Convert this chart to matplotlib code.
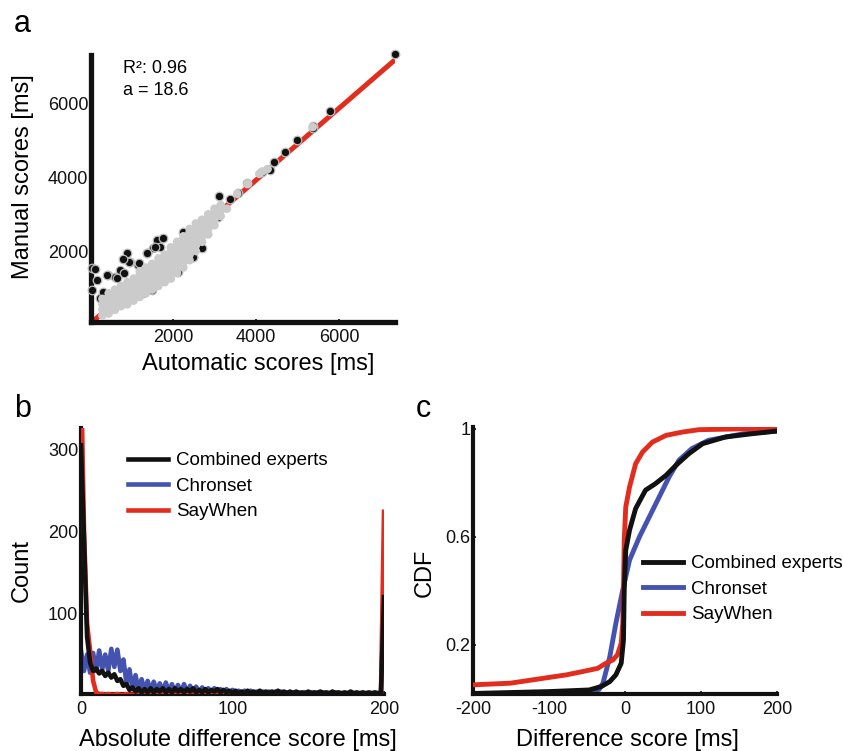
import matplotlib
matplotlib.use('Agg')
import matplotlib.pyplot as plt
import numpy as np

plt.rcParams['font.family'] = ['Liberation Sans', 'DejaVu Sans']
plt.rcParams['axes.unicode_minus'] = False

RED = '#e22d1e'
BLUE = '#4452b0'
BLACK = '#111111'
GRAY = '#cbcbcb'

# ---------------- Panel a data ----------------
auto_black = [7349, 5783, 5366, 5366, 4996, 4699, 4442, 4337, 4145, 3775,
              3574, 3116, 3373, 3092, 2249, 1607, 1767, 1687, 1526, 2610,
              2691, 2450, 2249, 2474, 2128, 2490, 56, 161, 56, 241,
              321, 441, 602, 723, 827, 884, 964, 1164, 1365, 1566,
              1486, 1285, 410, 650, 120, 1373, 1181, 940, 795, 2892]
manual_black = [7352, 5810, 5401, 5340, 5020, 4703, 4413, 4204, 4158, 3842,
                3570, 3497, 3407, 2934, 2526, 2299, 2345, 2117, 2073, 2163,
                2073, 2117, 1801, 1829, 1420, 1845, 1529, 1211, 939, 713,
                893, 1347, 1301, 1483, 1393, 1937, 1709, 1619, 1937, 2117,
                939, 849, 1347, 1265, 1510, 1946, 1673, 1700, 1782, 2753]

auto_gray = [300, 300, 300, 300,
             450, 450, 450, 450, 450,
             600, 600, 600, 600, 600,
             750, 750, 750, 750, 750,
             900, 900, 900, 900, 900,
             1050, 1050, 1050, 1050, 1050,
             1200, 1200, 1200, 1200, 1200, 1200,
             1350, 1350, 1350, 1350, 1350, 1350,
             1500, 1500, 1500, 1500, 1500, 1500,
             1650, 1650, 1650, 1650, 1650, 1650,
             1800, 1800, 1800, 1800, 1800, 1800,
             1950, 1950, 1950, 1950, 1950, 1950, 1950,
             2100, 2100, 2100, 2100, 2100, 2100, 2100,
             2250, 2250, 2250, 2250, 2250, 2250, 2250,
             2400, 2400, 2400, 2400, 2400, 2400, 2400,
             2550, 2550, 2550, 2550, 2550, 2550,
             2700, 2700, 2700, 2700, 2700,
             2850, 2850, 2850, 2850, 2850,
             3000, 3000, 3000, 3000,
             3150, 3150, 3150,
             3300, 3550, 3800, 4080, 4150, 4280, 5370]
manual_gray = [250, 400, 550, 700,
               300, 450, 600, 750, 850,
               400, 550, 700, 850, 950,
               500, 650, 800, 950, 1050,
               550, 700, 850, 1000, 1150,
               650, 800, 950, 1100, 1250,
               750, 900, 1050, 1200, 1350, 1450,
               850, 1000, 1150, 1300, 1450, 1550,
               950, 1100, 1250, 1400, 1550, 1650,
               1050, 1200, 1350, 1500, 1650, 1800,
               1150, 1300, 1450, 1600, 1750, 1900,
               1250, 1400, 1550, 1700, 1850, 2000, 2100,
               1400, 1550, 1700, 1850, 2000, 2150, 2250,
               1550, 1700, 1850, 2000, 2150, 2300, 2400,
               1750, 1900, 2050, 2200, 2350, 2500, 2600,
               2000, 2150, 2300, 2450, 2600, 2750,
               2250, 2400, 2550, 2700, 2850,
               2450, 2600, 2750, 2900, 3000,
               2700, 2850, 3000, 3150,
               2950, 3100, 3250,
               3150, 3560, 3830, 4100, 4160, 4230, 5370]

fit_slope = 0.977
fit_intercept = 18.6
r2_label = 'R\u00b2: 0.96'
a_label = 'a = 18.6'

# ---------------- Panel b data ----------------
diff_bins = list(range(0, 201, 2))
count_experts = [305, 190, 72, 40, 30, 33, 27, 30, 24, 28,
                 22, 26, 18, 20, 12, 14, 7, 10, 5, 9,
                 4, 8, 4, 9, 4, 8, 5, 9, 4, 8,
                 4, 9, 5, 8, 4, 8, 5, 9, 4, 7,
                 4, 8, 4, 7, 5, 8, 4, 7, 4, 6,
                 3, 6, 3, 5, 3, 6, 3, 5, 3, 6,
                 3, 5, 3, 5, 3, 6, 3, 5, 3, 5,
                 3, 5, 3, 4, 3, 5, 3, 4, 3, 5,
                 3, 4, 3, 5, 3, 4, 3, 4, 3, 5,
                 3, 4, 3, 4, 3, 4, 3, 4, 3, 4,
                 120]
count_chronset = [55, 30, 50, 28, 52, 30, 55, 32, 50, 30,
                  57, 35, 56, 30, 44, 15, 32, 8, 25, 6,
                  20, 6, 18, 5, 17, 6, 15, 5, 16, 5,
                  14, 5, 13, 4, 14, 4, 12, 4, 11, 4,
                  10, 4, 9, 3, 9, 3, 8, 3, 8, 3,
                  7, 3, 6, 3, 6, 3, 6, 3, 5, 3,
                  5, 3, 5, 3, 5, 2, 5, 2, 4, 2,
                  4, 2, 4, 2, 4, 2, 4, 2, 4, 2,
                  4, 2, 3, 2, 4, 2, 3, 2, 3, 2,
                  3, 2, 3, 2, 3, 2, 3, 2, 3, 2,
                  118]
count_saywhen = [400, 200, 88, 55, 18, 4, 2, 2, 1, 2,
                 1, 1, 2, 1, 1, 2, 1, 1, 2, 1,
                 1, 2, 1, 1, 2, 1, 1, 2, 1, 1,
                 1, 1, 2, 1, 1, 1, 2, 1, 1, 1,
                 1, 2, 1, 1, 1, 1, 2, 1, 1, 1,
                 2, 1, 1, 1, 2, 1, 1, 1, 1, 2,
                 1, 1, 1, 2, 1, 1, 1, 1, 2, 1,
                 1, 1, 2, 1, 1, 1, 1, 2, 1, 1,
                 1, 2, 1, 1, 1, 1, 2, 1, 1, 1,
                 1, 2, 1, 1, 1, 1, 2, 1, 1, 1,
                 224]

# ---------------- Panel c data ----------------
cdf_x_experts = [-200, -100, -47, -31, -20, -12, -5, -2, -1, 1, 6, 14, 27, 40, 54, 67, 84, 102, 132, 167, 200]
cdf_y_experts = [0.02, 0.027, 0.033, 0.046, 0.064, 0.089, 0.132, 0.218, 0.403, 0.551, 0.625, 0.705,
                 0.773, 0.797, 0.828, 0.865, 0.908, 0.945, 0.970, 0.982, 0.992]
cdf_x_chronset = [-200, -100, -50, -34, -29, -20, -12, -3, 6, 19, 32, 45, 58, 71, 88, 110, 156, 200]
cdf_y_chronset = [0.015, 0.018, 0.022, 0.035, 0.058, 0.156, 0.280, 0.403, 0.514, 0.600, 0.674,
                  0.748, 0.822, 0.884, 0.927, 0.958, 0.982, 0.992]
cdf_x_saywhen = [-200, -151, -108, -77, -56, -36, -25, -16, -10, -5, -3, -2, -1, 1, 6, 14, 23, 36, 54, 75, 97, 150, 200]
cdf_y_saywhen = [0.052, 0.058, 0.076, 0.089, 0.101, 0.113, 0.132, 0.144, 0.163, 0.206, 0.280, 0.403,
                 0.588, 0.711, 0.785, 0.871, 0.914, 0.951, 0.976, 0.988, 0.997, 1.0, 1.0]

legend_labels = ['Combined experts', 'Chronset', 'SayWhen']

W, H = 843, 751
fig = plt.figure(figsize=(W / 100, H / 100), dpi=100)


def px_axes(l, t, r, b):
    return fig.add_axes([l / W, 1 - b / H, (r - l) / W, (b - t) / H])


def style(ax, lw):
    for s in ['top', 'right']:
        ax.spines[s].set_visible(False)
    for s in ['left', 'bottom']:
        ax.spines[s].set_linewidth(lw)
        ax.spines[s].set_color(BLACK)
        ax.spines[s].set_capstyle('projecting')
    ax.tick_params(direction='in', length=2.5, width=1.2, labelsize=13, colors=BLACK)
    ax.tick_params(axis='y', pad=2)
    ax.tick_params(axis='x', pad=5)


def ftext(x, y, s, **kw):
    fig.text(x / W, 1 - y / H, s, **kw)


# ---------------- Panel a ----------------
axa = px_axes(91, 55, 395, 322)
style(axa, 3.8)
axa.set_xlim(25, 7350)
axa.set_ylim(70, 7330)
axa.set_xticks([2000, 4000, 6000])
axa.set_yticks([2000, 4000, 6000])
xl = np.array([0, 7350])
axa.plot(xl, fit_slope * xl + fit_intercept, color=RED, lw=3.6, zorder=2, solid_capstyle='butt')
axa.scatter(auto_black, manual_black, s=38, c=BLACK, edgecolors='#bdbdbd', linewidths=0.9,
            zorder=3, clip_on=False)
axa.scatter(auto_gray, manual_gray, s=38, c=GRAY, edgecolors='none',
            zorder=4, clip_on=False)
ftext(123, 73, r2_label, fontsize=13, ha='left', va='baseline')
ftext(123, 95, a_label, fontsize=13, ha='left', va='baseline')
ftext(258, 364, 'Automatic scores [ms]', fontsize=17, ha='center', va='center')
ftext(23, 177, 'Manual scores [ms]', fontsize=17, ha='center', va='center', rotation=90)
ftext(14, 32, 'a', fontsize=22, ha='left', va='baseline')

# ---------------- Panel b ----------------
axb = px_axes(81, 428, 384, 694)
style(axb, 3.0)
axb.set_xlim(0, 200)
axb.set_ylim(2, 326)
axb.set_xticks([0, 100, 200])
axb.set_yticks([100, 200, 300])
lb2, = axb.plot(diff_bins, count_chronset, color=BLUE, lw=3.3, zorder=2)
lb3, = axb.plot(diff_bins, count_saywhen, color=RED, lw=3.3, zorder=3)
lb1, = axb.plot(diff_bins, count_experts, color=BLACK, lw=3.3, zorder=4)
axb.legend([lb1, lb2, lb3], legend_labels, loc='upper left',
           bbox_to_anchor=(128 / W, 1 - 452 / H), bbox_transform=fig.transFigure,
           frameon=False, fontsize=13.5, handlelength=2.15, handletextpad=0.4,
           labelspacing=0.45, borderpad=0, borderaxespad=0)
ftext(238, 740, 'Absolute difference score [ms]', fontsize=17, ha='center', va='center')
ftext(22, 570, 'Count', fontsize=17, ha='center', va='center', rotation=90)
ftext(14, 417, 'b', fontsize=22, ha='left', va='baseline')

# ---------------- Panel c ----------------
axc = px_axes(473, 427, 777, 694)
style(axc, 3.0)
axc.set_xlim(-200, 200)
axc.set_ylim(0.018, 1.007)
axc.set_xticks([-200, -100, 0, 100, 200])
axc.set_yticks([0.2, 0.6, 1.0])
axc.set_yticklabels(['0.2', '0.6', '1'])
lc2, = axc.plot(cdf_x_chronset, cdf_y_chronset, color=BLUE, lw=3.5, zorder=2)
lc3, = axc.plot(cdf_x_saywhen, cdf_y_saywhen, color=RED, lw=3.5, zorder=3)
lc1, = axc.plot(cdf_x_experts, cdf_y_experts, color=BLACK, lw=3.5, zorder=4)
axc.legend([lc1, lc2, lc3], legend_labels, loc='upper left',
           bbox_to_anchor=(643 / W, 1 - 555 / H), bbox_transform=fig.transFigure,
           frameon=False, fontsize=13.5, handlelength=2.15, handletextpad=0.4,
           labelspacing=0.45, borderpad=0, borderaxespad=0)
ftext(627, 740, 'Difference score [ms]', fontsize=17, ha='center', va='center')
ftext(425, 573, 'CDF', fontsize=17, ha='center', va='center', rotation=90)
ftext(416, 417, 'c', fontsize=22, ha='left', va='baseline')

fig.savefig('out.png', dpi=100)
